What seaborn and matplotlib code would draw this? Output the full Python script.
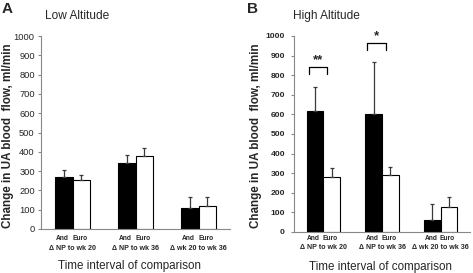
import matplotlib
matplotlib.use("Agg")
import matplotlib.pyplot as plt
import seaborn as sns
import pandas as pd
import numpy as np

# ---- data ----
categories = ["\u0394 NP to wk 20", "\u0394 NP to wk 36", "\u0394 wk 20 to wk 36"]
groups = ["And", "Euro"]
low_and = [271, 340, 107]
low_and_err = [33, 42, 60]
low_euro = [254, 378, 121]
low_euro_err = [24, 40, 43]
high_and = [619, 600, 61]
high_and_err = [122, 269, 80]
high_euro = [279, 292, 126]
high_euro_err = [46, 38, 51]
yticks = [0, 100, 200, 300, 400, 500, 600, 700, 800, 900, 1000]
sig_labels = ["**", "*", ""]
sig_heights = [842, 964, None]

sns.set_style("white")
plt.rcParams["font.family"] = ["Liberation Sans", "DejaVu Sans"]

W, H = 473, 273
fig = plt.figure(figsize=(W / 100, H / 100), dpi=100)

def frame(df_and, df_euro):
    rows = []
    for c, a, e in zip(categories, df_and, df_euro):
        rows.append({"interval": c, "group": "And", "value": a})
        rows.append({"interval": c, "group": "Euro", "value": e})
    return pd.DataFrame(rows)

def panel(rect, and_vals, and_err, euro_vals, euro_err, bold_ticks, fs_tick, pad_tick,
          off1, off2):
    ax = fig.add_axes(rect)
    df = frame(and_vals, euro_vals)
    sns.barplot(data=df, x="interval", y="value", hue="group", order=categories,
                hue_order=groups, palette={"And": "black", "Euro": "white"},
                edgecolor="black", linewidth=0.8, width=0.57, errorbar=None,
                legend=False, ax=ax)
    for cont, errs in zip(ax.containers, [and_err, euro_err]):
        xs = [b.get_x() + b.get_width() / 2 for b in cont]
        ys = [b.get_height() for b in cont]
        ax.errorbar(xs, ys, yerr=[np.zeros(len(errs)), errs], fmt="none",
                    ecolor="#3a3a3a", elinewidth=0.9, capsize=1.6, capthick=0.9)
    # group labels under bars
    for cont, g in zip(ax.containers, groups):
        for b in cont:
            ax.annotate(g, xy=(b.get_x() + b.get_width() / 2, 0),
                        xycoords=("data", "axes fraction"),
                        xytext=(-1.5, -off1), textcoords="offset pixels",
                        ha="center", va="center", fontsize=4.8, fontweight="bold")
    ax.set_xlim(-0.5, 2.5)
    ax.set_ylim(0, 1000)
    ax.set_yticks(yticks)
    ax.set_yticklabels([str(t) for t in yticks], fontsize=fs_tick,
                       fontweight="bold" if bold_ticks else "normal")
    ax.set_xticks(range(len(categories)))
    ax.set_xticklabels(categories, fontsize=5.1, fontweight="bold")
    ax.set_xticks([-0.5, 0.5, 1.5, 2.5], minor=True)
    ax.tick_params(axis="x", which="major", length=0, pad=off2 * 0.72 - 2.6)
    ax.tick_params(axis="x", which="minor", length=2.5, color="#888888", width=0.8)
    ax.tick_params(axis="y", length=2.5, color="#888888", width=0.8, pad=pad_tick, left=True)
    ax.set_xlabel("")
    ax.set_ylabel("")
    for s in ["top", "right"]:
        ax.spines[s].set_visible(False)
    for s in ["left", "bottom"]:
        ax.spines[s].set_color("#888888")
        ax.spines[s].set_linewidth(0.8)
    return ax

axA = panel([41 / W, 1 - 229 / H, (230 - 41) / W, (229 - 36) / H],
            low_and, low_and_err, low_euro, low_euro_err, False, 6.7, 2.0, 10, 20)
axB = panel([294 / W, 1 - 232 / H, (470 - 294) / W, (232 - 36) / H],
            high_and, high_and_err, high_euro, high_euro_err, True, 6.1, 4.0, 6, 16)

# significance brackets on panel B
for i, (lab, h) in enumerate(zip(sig_labels, sig_heights)):
    if h is None:
        continue
    x0, x1 = i - 0.25, i + 0.06
    axB.plot([x0, x0, x1, x1], [h - 36, h, h, h - 36], color="black", lw=0.9,
             clip_on=False)
    axB.text((x0 + x1) / 2, h + 4, lab, ha="center", va="bottom", fontsize=9.5,
             fontweight="bold", clip_on=False)

# titles, panel letters, axis labels
fig.text(45 / W, 1 - 16 / H, "Low Altitude", fontsize=8.6, ha="left", va="center")
fig.text(293 / W, 1 - 16 / H, "High Altitude", fontsize=8.6, ha="left", va="center")
fig.text(2 / W, 1 - 9 / H, "A", fontsize=11, fontweight="bold", ha="left", va="center")
fig.text(247 / W, 1 - 9 / H, "B", fontsize=11, fontweight="bold", ha="left", va="center")
ylab = "Change in UA blood  flow, ml/min"
fig.text(8 / W, 1 - 136 / H, ylab, rotation=90, fontsize=8.4, fontweight="bold",
         ha="center", va="center")
fig.text(256 / W, 1 - 136 / H, ylab, rotation=90, fontsize=8.4, fontweight="bold",
         ha="center", va="center")
fig.text(129.5 / W, 1 - 266 / H, "Time interval of comparison", fontsize=8.4,
         ha="center", va="center")
fig.text(380 / W, 1 - 267 / H, "Time interval of comparison", fontsize=8.4,
         ha="center", va="center")

fig.savefig("out.png", dpi=100)
